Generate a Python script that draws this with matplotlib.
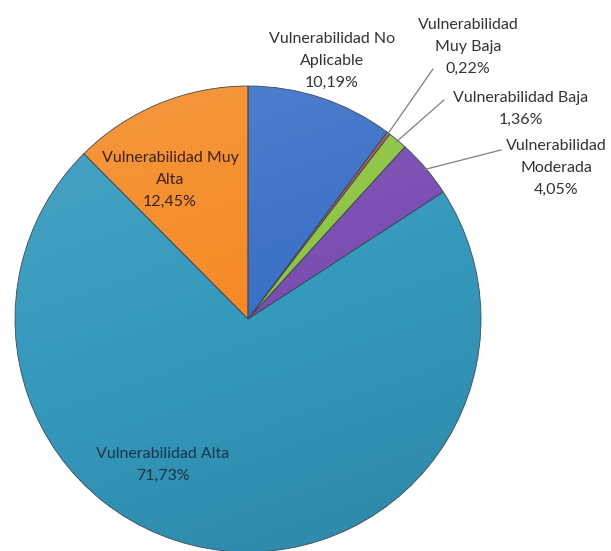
import numpy as np
import matplotlib
matplotlib.use("Agg")
import matplotlib.pyplot as plt
from matplotlib.patches import Circle, PathPatch

# Distribución de la vulnerabilidad (porcentaje del total)
categorias = [
    "Vulnerabilidad No\nAplicable",
    "Vulnerabilidad\nMuy Baja",
    "Vulnerabilidad Baja",
    "Vulnerabilidad\nModerada",
    "Vulnerabilidad Alta",
    "Vulnerabilidad Muy\nAlta",
]
porcentajes = [10.19, 0.22, 1.36, 4.05, 71.73, 12.45]

colores = ["#3B70C8", "#C0504D", "#8DC440", "#7A4DB2", "#3499BD", "#F58A25"]

W, H = 611, 551
CX, CY, R = 248, 319, 233  # pie centre and radius in pixels


def px(x, y):
    """Pixel position (origin top-left) -> data coordinates of the pie."""
    return ((x - CX) / R, (CY - y) / R)


# label anchor (pixels) and text colour
etiquetas = [
    ((332, 61), "#333333"),
    ((468, 47), "#333333"),
    ((521, 109), "#333333"),
    ((556, 168), "#333333"),
    ((163, 465), "#17364a"),
    ((170, 180), "#3a2410"),
]

plt.rcParams["font.family"] = ["Lato", "DejaVu Sans"]

fig = plt.figure(figsize=(W / 100, H / 100), dpi=100)
ax = fig.add_axes([0, 0, 1, 1])

wedges, _ = ax.pie(
    porcentajes,
    colors=colores,
    startangle=90,
    counterclock=False,
    radius=1.0,
    center=(0, 0),
    wedgeprops=dict(linewidth=0),
    frame=True,
)
ax.axis("off")
ax.set_aspect("equal")

# soft light-to-shadow shading across the disc
n = 300
yy, xx = np.mgrid[1:-1:n * 1j, -1:1:n * 1j]
t = np.clip((yy - 0.35 * xx + 1.2) / 2.4, 0, 1)  # 1 = upper-left, 0 = lower-right
shade = np.zeros((n, n, 4))
light = t > 0.5
shade[light, :3] = 1.0
shade[..., 3] = np.where(light, (t - 0.5) * 0.22, (0.5 - t) * 0.22)
img = ax.imshow(shade, extent=(-1, 1, -1, 1), zorder=1.5, interpolation="bilinear")
img.set_clip_path(Circle((0, 0), 1.0, transform=ax.transData))
ax.set_xlim(-CX / R, (W - CX) / R)
ax.set_ylim(-(H - CY) / R, CY / R)

# wedge outlines above the shading
for w in wedges:
    w.set_zorder(1)
    ax.add_patch(PathPatch(w.get_path(), transform=w.get_transform(), fill=False,
                           edgecolor="#3d4b5a", linewidth=0.6, zorder=1.6))

for w, cat, val, ((lx, ly), col) in zip(wedges, categorias, porcentajes, etiquetas):
    texto = f"{cat}\n{val:.2f}%".replace(".", ",")
    tx, ty = px(lx, ly)
    ax.text(tx, ty, texto, ha="center", va="center", fontsize=11.5,
            color=col, linespacing=1.75, zorder=3)

# leader lines for the three small wedges
lineas = {1: (433, 69), 2: (444, 100), 3: (501, 150)}
for i, (ex, ey) in lineas.items():
    w = wedges[i]
    ang = np.deg2rad((w.theta1 + w.theta2) / 2)
    sx, sy = 0.99 * np.cos(ang), 0.99 * np.sin(ang)
    exd, eyd = px(ex, ey)
    ax.plot([sx, exd], [sy, eyd], color="#7f7f7f", linewidth=0.9, zorder=2)

fig.savefig("out.png", dpi=100, facecolor="white")
